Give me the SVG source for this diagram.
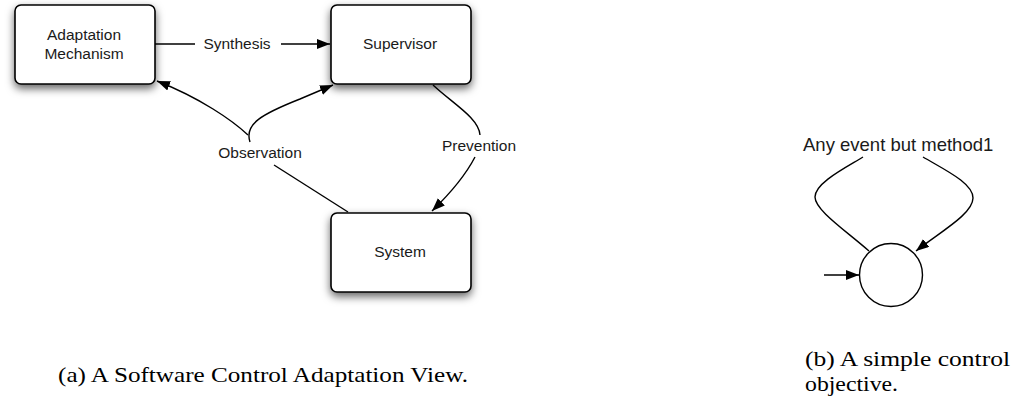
<svg xmlns="http://www.w3.org/2000/svg" width="1031" height="404" viewBox="0 0 1031 404">
<style>
.box{fill:#fff;stroke:#000;stroke-width:1.6;filter:url(#sh)}
.lbl{font-family:"Liberation Sans",Arial,sans-serif;font-size:15.5px;fill:#1a1a1a;text-anchor:middle}
.edge{fill:none;stroke:#000;stroke-width:1.4}
.cap{font-family:"Liberation Serif","Times New Roman",serif;font-size:22px;fill:#000}
</style>
<defs>
<filter id="sh" x="-25%" y="-25%" width="150%" height="160%">
<feDropShadow dx="0" dy="4" stdDeviation="4" flood-color="#000" flood-opacity="0.6"/>
</filter>
<marker id="ah" markerUnits="userSpaceOnUse" markerWidth="14" markerHeight="12" refX="13" refY="5" orient="auto">
<path d="M0,0 L13,5 L0,10 z" fill="#000"/>
</marker>
</defs>
<g id="adaptation">
<rect class="box" x="15" y="5" width="140" height="79" rx="6"/>
<text class="lbl" x="84" y="39.5">Adaptation</text>
<text class="lbl" x="84" y="58.5">Mechanism</text>
</g>
<g id="supervisor">
<rect class="box" x="331" y="5" width="140" height="79" rx="6"/>
<text class="lbl" x="400" y="49">Supervisor</text>
</g>
<g id="system">
<rect class="box" x="331" y="213" width="140" height="79" rx="6"/>
<text class="lbl" x="400" y="257">System</text>
</g>
<g id="connectors">
<path class="edge" d="M155,44 L195,44"/>
<path class="edge" d="M281,44 L330,44" marker-end="url(#ah)"/>
<text class="lbl" x="237" y="49">Synthesis</text>
<path class="edge" d="M348,212 L274,165"/>
<path class="edge" d="M248,135 C 232,120 200,98 157,81" marker-end="url(#ah)"/>
<path class="edge" d="M250,142 C 244,124 262,114 300,99 L333,85" marker-end="url(#ah)"/>
<text class="lbl" x="260" y="158">Observation</text>
<path class="edge" d="M433,85 C 452,103 479,118 480,135"/>
<path class="edge" d="M475,157 Q 462,182 432,211" marker-end="url(#ah)"/>
<text class="lbl" x="479" y="151">Prevention</text>
</g>
<g id="state">
<circle cx="891" cy="275" r="31.5" fill="#fff" stroke="#000" stroke-width="1.4"/>
</g>
<g id="objective-connectors">
<path class="edge" d="M824,275 L859,275" marker-end="url(#ah)"/>
<path class="edge" d="M869,251 C 845,230 815,210 815,197 C 815,183 845,168 863,157"/>
<path class="edge" d="M923,157 C 945,170 973,183 973,198 C 973,214 940,232 916,251" marker-end="url(#ah)"/>
<text x="803" y="151" style="font-family:'Liberation Sans',Arial,sans-serif;font-size:18.5px;fill:#1a1a1a">Any event but method1</text>
</g>
<text class="cap" x="58" y="382" textLength="410" lengthAdjust="spacingAndGlyphs">(a) A Software Control Adaptation View.</text>
<text class="cap" x="805" y="366" textLength="205" lengthAdjust="spacingAndGlyphs">(b) A simple control</text>
<text class="cap" x="805" y="391" textLength="93" lengthAdjust="spacingAndGlyphs">objective.</text>
</svg>
